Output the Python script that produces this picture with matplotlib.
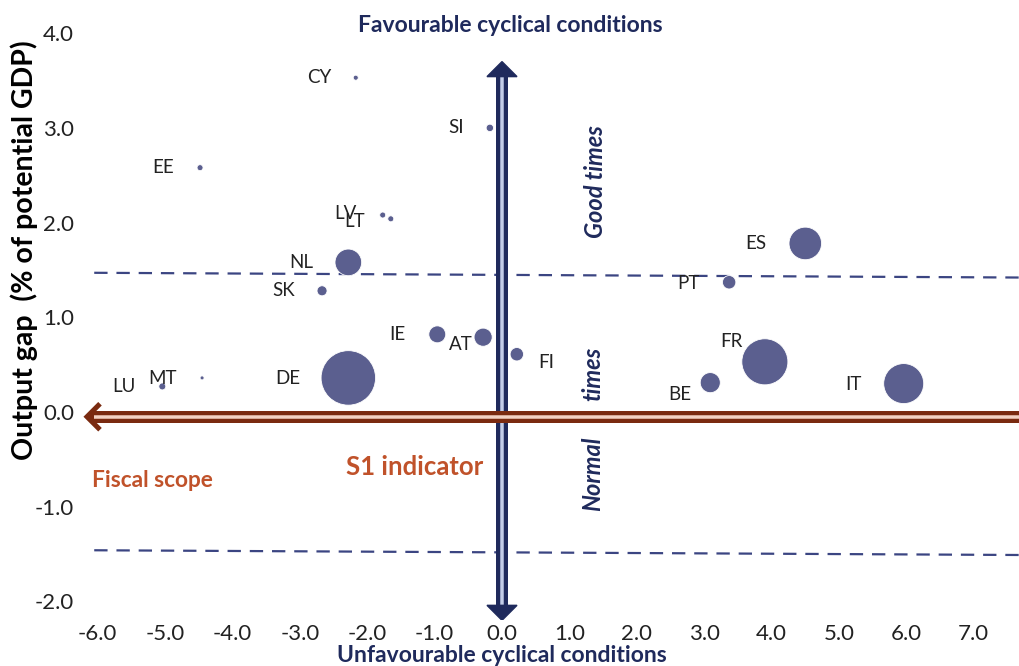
import numpy as np
import matplotlib
matplotlib.use("Agg")
import matplotlib.pyplot as plt
from matplotlib.patches import Polygon

plt.rcParams["font.family"] = ["Lato", "DejaVu Sans"]

# S1 indicator (x) vs output gap (y), bubble = share of euro area GDP (%)
countries = ["CY", "SI", "EE", "LV", "LT", "NL", "SK", "IE", "AT", "FI",
             "LU", "MT", "DE", "ES", "PT", "FR", "BE", "IT"]
s1_indicator = [-2.17, -0.18, -4.48, -1.77, -1.65, -2.28, -2.67, -0.96, -0.28, 0.22,
                -5.04, -4.45, -2.28, 4.50, 3.37, 3.90, 3.09, 5.96]
output_gap = [3.53, 3.00, 2.58, 2.08, 2.04, 1.58, 1.28, 0.82, 0.79, 0.61,
              0.27, 0.36, 0.36, 1.78, 1.37, 0.53, 0.31, 0.30]
gdp_share = [0.24, 0.52, 0.34, 0.34, 0.34, 6.7, 0.95, 2.7, 3.1, 1.7,
             0.46, 0.15, 28.0, 10.0, 1.7, 20.0, 3.8, 15.1]

# label offsets from bubble centre, in pixels (right, down)
label_offsets = {
    "CY": (-36, 0), "SI": (-34, 0), "EE": (-37, 0), "LV": (-37, -2),
    "LT": (-36, 3), "NL": (-47, 0), "SK": (-38, 0), "IE": (-40, 0),
    "AT": (-22, 7), "FI": (29, 8), "LU": (-38, 0), "MT": (-40, 1),
    "DE": (-61, 1), "ES": (-49, 0), "PT": (-41, 1), "FR": (-33, -20),
    "BE": (-30, 12), "IT": (-50, 1),
}

# threshold lines for "good times" / "normal times" (slightly sloped)
upper_band = (1.47, 1.42)
lower_band = (-1.46, -1.51)

x_ticks = np.arange(-6, 8, 1.0)
y_ticks = np.arange(-2, 5, 1.0)

NAVY = "#1f2a5c"
NAVY_LIGHT = "#c3cde8"
BROWN = "#7a2a10"
BROWN_LIGHT = "#f3d2c4"
ORANGE = "#c0522a"
BUBBLE = "#5b5f8f"

W, H = 1019, 666
fig = plt.figure(figsize=(W / 100, H / 100), dpi=100)

# axes placed so ticks land on the reference pixels
x0_px, x_unit = 502, 67.4
y0_px, y_unit = 412, 94.7
left_px, bottom_px = 77, 620
xlim = ((left_px - x0_px) / x_unit, (W - x0_px) / x_unit)
ylim = ((y0_px - bottom_px) / y_unit, y0_px / y_unit)
ax = fig.add_axes([left_px / W, (H - bottom_px) / H, (W - left_px) / W, bottom_px / H])
ax.set_xlim(*xlim)
ax.set_ylim(*ylim)

for sp in ax.spines.values():
    sp.set_visible(False)
ax.set_xticks(x_ticks)
ax.set_yticks(y_ticks)
ax.set_xticklabels(["%.1f" % v for v in x_ticks])
ax.set_yticklabels(["%.1f" % v for v in y_ticks])
ax.tick_params(length=0, labelsize=16, colors="#222222", pad=2)
ax.tick_params(axis="x", pad=3)

px_x = 1 / x_unit  # data per pixel
px_y = 1 / y_unit
lw_px = 0.72  # points per pixel

# dashed band lines
xs = [-6.05, xlim[1]]
ax.plot(xs, upper_band, color="#3b4582", lw=1.6, ls=(0, (6, 4)), zorder=1)
ax.plot(xs, lower_band, color="#3b4582", lw=1.6, ls=(0, (6, 4)), zorder=1)

# vertical double arrow (cyclical conditions)
top, bot = 3.7, -2.2
head_h, head_w = 15 * px_y, 15 * px_x
ax.plot([0, 0], [bot + head_h * 0.8, top - head_h * 0.8], color=NAVY, lw=12 * lw_px,
        solid_capstyle="butt", zorder=4)
ax.plot([0, 0], [bot + head_h, top - head_h], color=NAVY_LIGHT, lw=3.5 * lw_px,
        solid_capstyle="butt", zorder=4)
ax.add_patch(Polygon([(-head_w, top - head_h), (0, top), (head_w, top - head_h)],
                     closed=True, color=NAVY, zorder=4))
ax.add_patch(Polygon([(-head_w, bot + head_h), (0, bot), (head_w, bot + head_h)],
                     closed=True, color=NAVY, zorder=4))

# bubbles
ax.scatter(s1_indicator, output_gap, s=np.array(gdp_share) * 55, color=BUBBLE,
           edgecolors="white", linewidths=0.6, zorder=3)

for c, xv, yv in zip(countries, s1_indicator, output_gap):
    dx, dy = label_offsets[c]
    ax.annotate(c, (xv, yv), xytext=(dx * lw_px, -dy * lw_px), textcoords="offset points",
                ha="center", va="center", fontsize=13.5, color="#222222", zorder=6)

# horizontal double arrow (S1 indicator / fiscal scope)
tip = (85 - x0_px) / x_unit
y_arr = -0.05
ax.plot([tip + 5 * px_x, xlim[1]], [y_arr, y_arr], color=BROWN, lw=12 * lw_px,
        solid_capstyle="butt", zorder=5)
ax.plot([tip + 9 * px_x, xlim[1]], [y_arr, y_arr], color=BROWN_LIGHT, lw=3.5 * lw_px,
        solid_capstyle="butt", zorder=5)
ax.plot([tip + 15 * px_x, tip + 2 * px_x, tip + 15 * px_x],
        [y_arr + 13 * px_y, y_arr, y_arr - 13 * px_y], color=BROWN, lw=5 * lw_px,
        solid_joinstyle="miter", solid_capstyle="butt", zorder=5)

# quadrant / axis annotations
ax.text(1.38, 2.43, "Good times", rotation=90, ha="center", va="center", color=NAVY,
        fontsize=17, fontweight="bold", style="italic", zorder=6)
ax.text(1.34, 0.40, "times", rotation=90, ha="center", va="center", color=NAVY,
        fontsize=17, fontweight="bold", style="italic", zorder=6)
ax.text(1.34, -0.65, "Normal", rotation=90, ha="center", va="center", color=NAVY,
        fontsize=17, fontweight="bold", style="italic", zorder=6)
ax.text(-5.18, -0.72, "Fiscal scope", ha="center", va="center", color=ORANGE,
        fontsize=16.3, fontweight="bold", zorder=6)
ax.text(-1.29, -0.58, "S1 indicator", ha="center", va="center", color=ORANGE,
        fontsize=18.5, fontweight="bold", zorder=6)

fig.text(510 / W, 1 - 25 / H, "Favourable cyclical conditions", ha="center", va="center",
         color=NAVY, fontsize=16.5, fontweight="bold")
fig.text(502 / W, 1 - 655 / H, "Unfavourable cyclical conditions", ha="center", va="center",
         color=NAVY, fontsize=16.5, fontweight="bold")
fig.text(24 / W, 1 - 250 / H, "Output gap  (% of potential GDP)", rotation=90,
         ha="center", va="center", color="black", fontsize=20.5, fontweight="bold")

fig.savefig("out.png", dpi=100)
